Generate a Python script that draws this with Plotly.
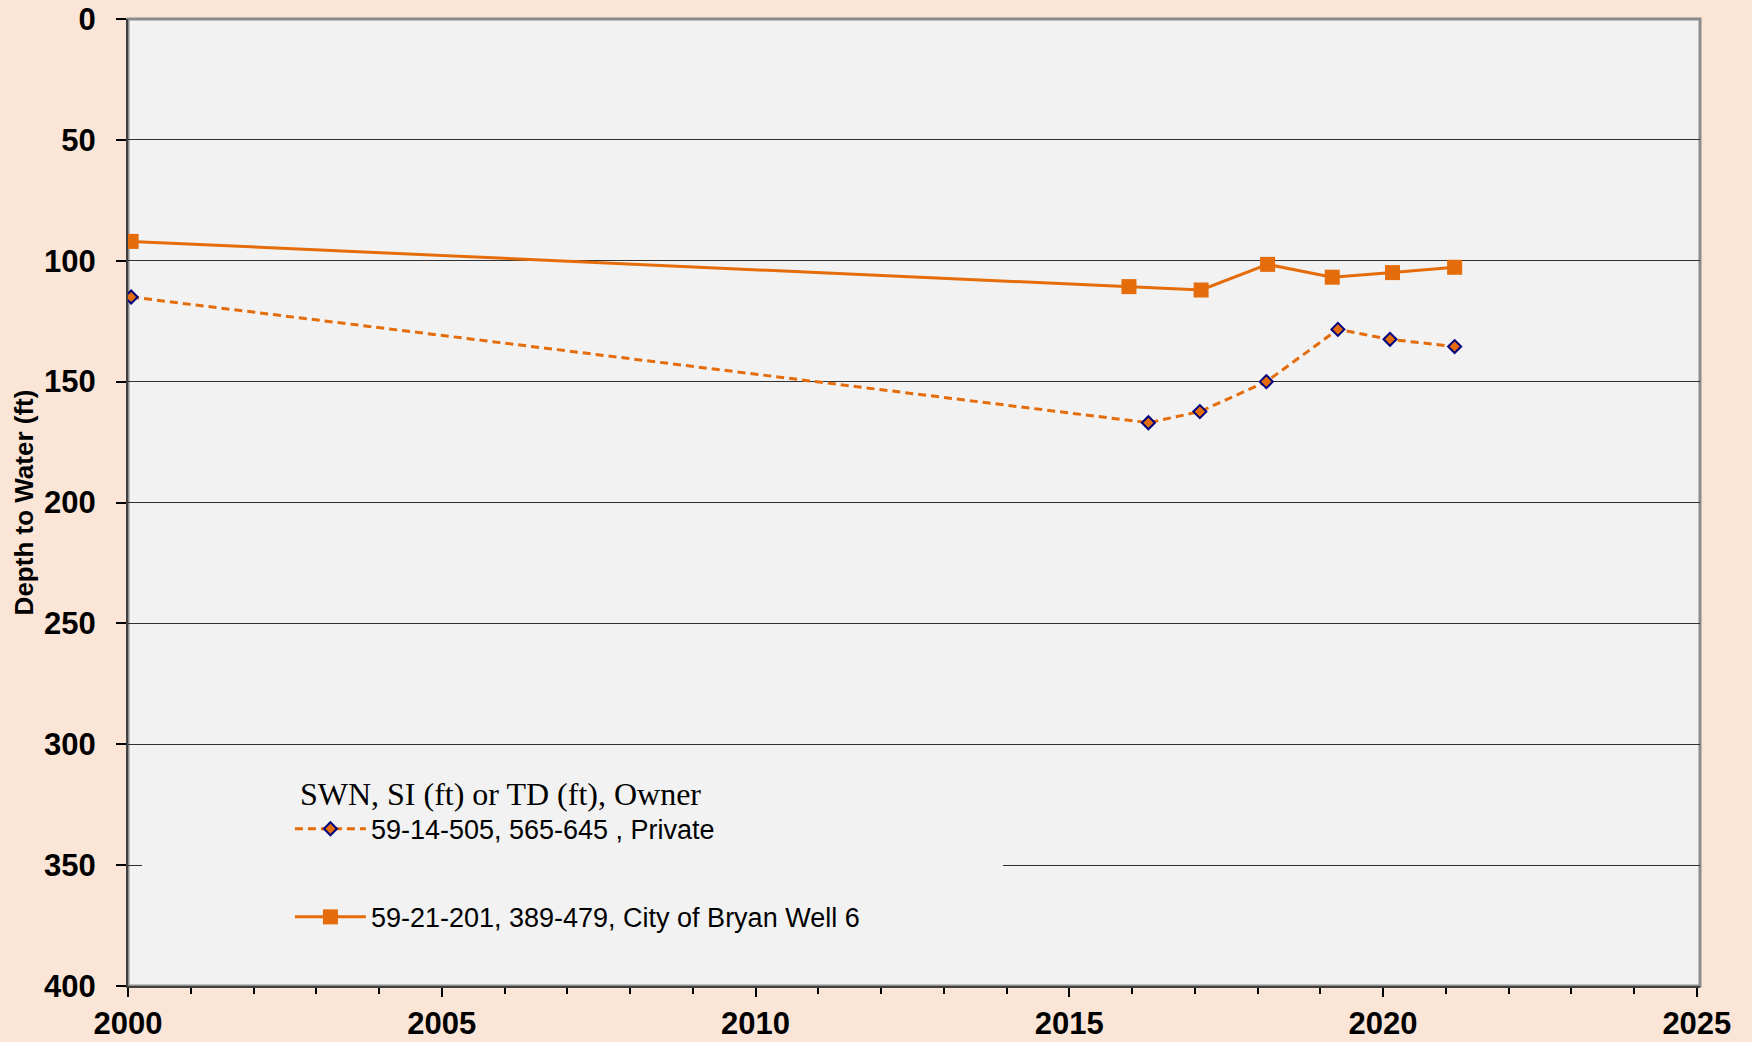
import plotly.graph_objects as go

# ---- data ----
private_years = [2000.05, 2016.26, 2017.08, 2018.14, 2019.28, 2020.11, 2021.14]
private_depth = [115.0, 167.0, 162.4, 150.0, 128.4, 132.5, 135.5]

bryan_years = [2000.05, 2015.95, 2017.10, 2018.16, 2019.19, 2020.15, 2021.14]
bryan_depth = [92.0, 110.7, 112.1, 101.5, 106.8, 104.9, 102.7]

private_name = "59-14-505, 565-645 , Private"
bryan_name = "59-21-201, 389-479, City of Bryan Well 6"
legend_title = "SWN, SI (ft) or TD (ft), Owner"
y_title = "Depth to Water (ft)"

x_ticks = [2000, 2005, 2010, 2015, 2020, 2025]
y_ticks = [0, 50, 100, 150, 200, 250, 300, 350, 400]

ORANGE = "#E46C0A"
NAVY = "#000080"

fig = go.Figure()
fig.add_trace(go.Scatter(
    x=private_years, y=private_depth, name=private_name, mode="lines+markers",
    legendgroup="a",
    line=dict(color=ORANGE, width=3, dash="8px,5px"),
    marker=dict(symbol="diamond", size=10, color=ORANGE, line=dict(color=NAVY, width=2)),
))
fig.add_trace(go.Scatter(
    x=bryan_years, y=bryan_depth, name=bryan_name, mode="lines+markers",
    legendgroup="b",
    line=dict(color=ORANGE, width=3),
    marker=dict(symbol="square", size=15, color=ORANGE),
))

fig.update_layout(
    width=1752, height=1042,
    margin=dict(l=128, r=52, t=19, b=56, autoexpand=False),
    paper_bgcolor="#FBE5D6",
    plot_bgcolor="#F2F2F2",
    font=dict(family="Arial, Liberation Sans, sans-serif", color="black"),
    showlegend=True,
    legend=dict(
        x=0.103, y=0.2305, xanchor="left", yanchor="top",
        bgcolor="rgba(0,0,0,0)",
        font=dict(size=27, family="Arial, Liberation Sans, sans-serif", color="black"),
        title=dict(text="\u00a0" + legend_title,
                   font=dict(size=32, family="Times New Roman, Liberation Serif, serif", color="black")),
        traceorder="grouped", tracegroupgap=50,
        itemwidth=71,
    ),
    shapes=[
        # legend background patch covering gridline
        dict(type="rect", xref="paper", yref="paper", x0=0.0089, x1=0.5566, y0=0.03, y1=0.2,
             fillcolor="#F2F2F2", line=dict(width=0), layer="above"),
        # plot area border
        dict(type="rect", xref="paper", yref="paper", x0=0, x1=1, y0=0, y1=1,
             fillcolor="rgba(0,0,0,0)", line=dict(color="#8C8C8C", width=3), layer="below"),
    ],
)

fig.update_xaxes(
    range=[2000, 2025.05], tickvals=x_ticks, ticktext=[str(v) for v in x_ticks],
    automargin=False,
    showgrid=False, zeroline=False,
    showline=True, linecolor="#404040", linewidth=2,
    ticks="outside", ticklen=9, tickwidth=2, tickcolor="black",
    minor=dict(dtick=1, tick0=2000, ticks="outside", ticklen=6, tickwidth=1.5, tickcolor="black", showgrid=False),
    tickfont=dict(size=31, weight="bold", color="black"),
    ticklabelstandoff=0,
    layer="below traces",
)
fig.update_yaxes(
    range=[400, 0], tickvals=y_ticks, ticktext=[str(v) for v in y_ticks],
    automargin=False,
    showgrid=True, gridcolor="#303030", gridwidth=1.2, zeroline=False,
    showline=True, linecolor="#404040", linewidth=2,
    ticks="outside", ticklen=10, tickwidth=1.5, tickcolor="black",
    tickfont=dict(size=31, weight="bold", color="black"),
    ticklabelstandoff=14,
    title=dict(text=y_title, font=dict(size=26, weight="bold", color="black"), standoff=3),
    layer="below traces",
)

fig.write_html("out.html", config={"displayModeBar": False},
               post_script="document.body.style.margin='0';document.body.style.overflow='hidden';")
